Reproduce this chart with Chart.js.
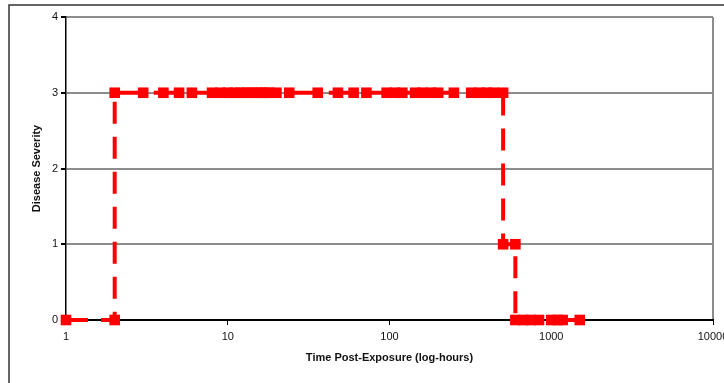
<!DOCTYPE html>
<html lang="en">

<head>
    <meta charset="UTF-8">
    <title>Disease Severity</title>
    <script src="https://cdn.jsdelivr.net/npm/chart.js"></script>
    <style>
        body { margin: 0; background: #fff; }
        canvas { display: block; }
    </style>
</head>

<body>
    <canvas id="severityChart" width="724" height="383"></canvas>

    <script>
        const hours = [1, 2, 2, 3, 4, 5, 6, 8, 9, 10, 11, 12, 13, 14, 15, 16, 17, 18, 20,
            24, 36, 48, 60, 72, 96, 108, 120, 144, 160, 180, 200, 250, 320, 360, 400, 440,
            504, 504, 600, 600, 672, 744, 840, 1000, 1100, 1176, 1500];
        const severity = [0, 0, 3, 3, 3, 3, 3, 3, 3, 3, 3, 3, 3, 3, 3, 3, 3, 3, 3,
            3, 3, 3, 3, 3, 3, 3, 3, 3, 3, 3, 3, 3, 3, 3, 3, 3,
            3, 1, 1, 0, 0, 0, 0, 0, 0, 0, 0];
        const xTicks = [1, 10, 100, 1000, 10000];
        const yTicks = [0, 1, 2, 3, 4];

        const rojo = '#ff0000';
        const gris = '#8c8c8c';
        const fuente = "'Liberation Sans', Arial, sans-serif";

        // Marco exterior y borde derecho del área del gráfico
        const marcoPlugin = {
            id: 'marco',
            beforeDraw(chart) {
                const { ctx, chartArea: a } = chart;
                ctx.save();
                ctx.fillStyle = '#fff';
                ctx.fillRect(0, 0, chart.width, chart.height);
                ctx.strokeStyle = '#333';
                ctx.lineWidth = 1.5;
                ctx.beginPath();
                ctx.moveTo(9, chart.height + 2);
                ctx.lineTo(9, 5);
                ctx.lineTo(chart.width + 2, 5);
                ctx.stroke();
                ctx.strokeStyle = gris;
                ctx.lineWidth = 2;
                ctx.beginPath();
                ctx.moveTo(a.right, a.top);
                ctx.lineTo(a.right, a.bottom);
                ctx.stroke();
                ctx.restore();
            }
        };

        const ctx = document.getElementById('severityChart').getContext('2d');
        const chart = new Chart(ctx, {
            type: 'line',
            data: {
                datasets: [{
                    data: hours.map((h, i) => ({ x: h, y: severity[i] })),
                    borderColor: rojo,
                    borderWidth: 4,
                    borderDash: [22, 13],
                    backgroundColor: rojo,
                    pointStyle: 'rect',
                    pointRadius: 7.5,
                    pointBorderWidth: 0,
                    pointBackgroundColor: rojo,
                    tension: 0,
                    fill: false,
                    clip: false
                }]
            },
            options: {
                responsive: false,
                animation: false,
                layout: { padding: { left: 30, top: 17, right: 11, bottom: 18 } },
                plugins: {
                    legend: { display: false },
                    tooltip: { enabled: false }
                },
                scales: {
                    x: {
                        type: 'logarithmic',
                        min: xTicks[0],
                        max: xTicks[xTicks.length - 1],
                        afterBuildTicks: (scale) => {
                            scale.ticks = xTicks.map(v => ({ value: v }));
                        },
                        afterFit: (scale) => {
                            scale.height = 45;
                            scale.paddingLeft = 0;
                            scale.paddingRight = 0;
                        },
                        ticks: {
                            autoSkip: false,
                            maxRotation: 0,
                            padding: 5,
                            color: '#111',
                            font: { family: fuente, size: 11 },
                            callback: (value) => String(value)
                        },
                        grid: {
                            drawOnChartArea: false,
                            drawTicks: true,
                            tickLength: 5,
                            tickColor: '#000'
                        },
                        border: { color: '#000', width: 2 },
                        title: {
                            display: true,
                            text: 'Time Post-Exposure (log-hours)',
                            color: '#111',
                            font: { family: fuente, size: 11, weight: 'bold' },
                            padding: 0
                        }
                    },
                    y: {
                        min: yTicks[0],
                        max: yTicks[yTicks.length - 1],
                        afterBuildTicks: (scale) => {
                            scale.ticks = yTicks.map(v => ({ value: v }));
                        },
                        afterFit: (scale) => {
                            scale.width = 36;
                            scale.paddingTop = 0;
                            scale.paddingBottom = 0;
                        },
                        ticks: {
                            padding: 3,
                            color: '#111',
                            font: { family: fuente, size: 11 }
                        },
                        grid: {
                            color: (c) => c.tick && c.tick.value === 0 ? 'rgba(0,0,0,0)' : gris,
                            lineWidth: 2,
                            tickColor: '#000',
                            tickLength: 5
                        },
                        border: { color: '#000', width: 1.5 },
                        title: {
                            display: true,
                            text: 'Disease Severity',
                            color: '#111',
                            font: { family: fuente, size: 11, weight: 'bold' },
                            padding: 0
                        }
                    }
                }
            },
            plugins: [marcoPlugin]
        });
    </script>
</body>

</html>
